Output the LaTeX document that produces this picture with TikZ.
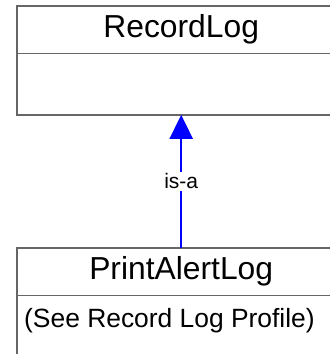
\documentclass[tikz,border=0pt]{standalone}
\usepackage{fontspec}
\setmainfont{Liberation Sans}
\usetikzlibrary{arrows.meta}
\definecolor{boxline}{HTML}{666666}
\tikzset{
  classpart/.style={rectangle, minimum width=328bp, inner sep=0pt},
  classtitle/.style={classpart, minimum height=47bp, font=\fontsize{31.8bp}{38bp}\selectfont},
  classframe/.style={draw=boxline, line width=1.5bp},
  isa/.style={blue, line width=2bp, -{Triangle[length=24bp,width=23bp]}}
}
\begin{document}
\begin{tikzpicture}[x=1bp,y=-1bp]
\useasboundingbox (0,0) rectangle (330,354);
\coordinate (pageedge) at (330,354);
\node [classtitle, anchor=north west] (recordlog) at (17,6) {RecordLog};
\node [classpart, anchor=north, minimum height=61bp] (recordlogbody) at (recordlog.south) {};
\node [classtitle, anchor=north west] (printalertlog) at (17,248) {PrintAlertLog};
\node [anchor=west, inner sep=0pt, font=\fontsize{26.4bp}{31bp}\selectfont] (profile) at ([xshift=7bp,yshift=-25bp]printalertlog.south west) {(See Record Log Profile)};
\draw [classframe] (recordlog.north west -| pageedge) -- (recordlog.north west) -- (recordlogbody.south west) -- (recordlogbody.south west -| pageedge);
\draw [classframe] (recordlog.south west) -- (recordlog.south west -| pageedge);
\draw [classframe] (printalertlog.north west -| pageedge) -- (printalertlog.north west) -- (printalertlog.north west |- pageedge);
\draw [classframe] (printalertlog.south west) -- (printalertlog.south west -| pageedge);
\draw [isa] (printalertlog.north) -- node [fill=white, text=black, inner sep=2bp, font=\fontsize{21bp}{25bp}\selectfont] (isalabel) {is-a} (recordlogbody.south);
\end{tikzpicture}
\end{document}
